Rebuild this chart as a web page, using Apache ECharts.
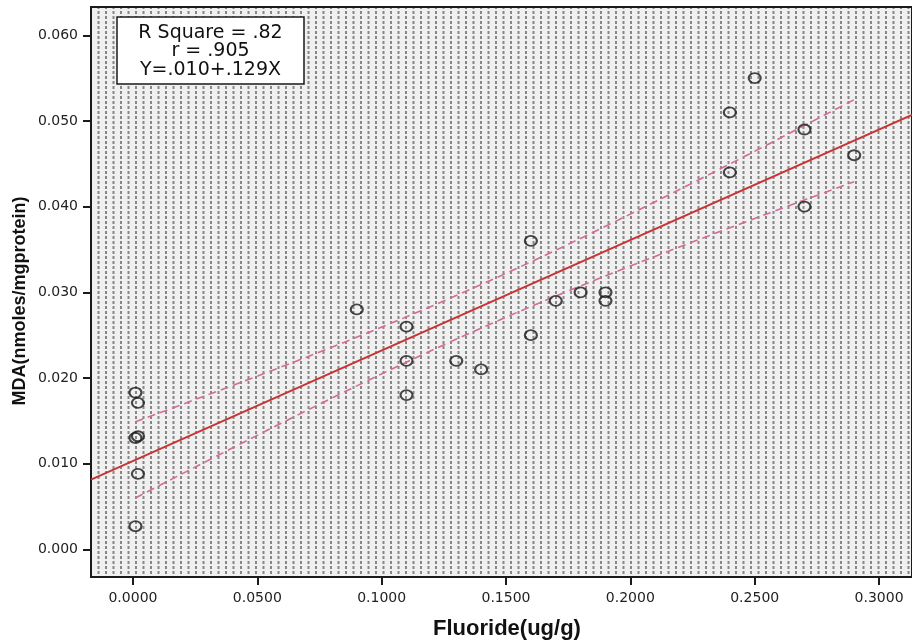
<!DOCTYPE html>
<html>
<head>
<meta charset="utf-8">
<script src="https://cdn.jsdelivr.net/npm/echarts@6/dist/echarts.min.js"></script>
<style>
html,body{margin:0;padding:0;background:#fff;}
#chart{width:912px;height:642px;}
</style>
</head>
<body>
<div id="chart"></div>
<script>
// ---- data ----
const fluoride = [0.001, 0.002, 0.002, 0.001, 0.002, 0.001,
  0.09, 0.11, 0.11, 0.11, 0.13, 0.14, 0.16, 0.16, 0.17, 0.18, 0.19, 0.19,
  0.24, 0.24, 0.25, 0.27, 0.27, 0.29];
const mda = [0.0183, 0.0171, 0.0132, 0.0130, 0.0088, 0.0027,
  0.028, 0.026, 0.022, 0.018, 0.022, 0.021, 0.036, 0.025, 0.029, 0.030, 0.030, 0.029,
  0.051, 0.044, 0.055, 0.049, 0.040, 0.046];
const xTicks = [0, 0.05, 0.10, 0.15, 0.20, 0.25, 0.30];
const yTicks = [0, 0.01, 0.02, 0.03, 0.04, 0.05, 0.06];
const statLines = ['R Square = .82', 'r = .905', 'Y=.010+.129X'];
const xTitle = 'Fluoride(ug/g)';
const yTitle = 'MDA(nmoles/mgprotein)';
const tCrit = 2.074; // t(0.975, df=22)

// ---- axis ranges ----
const xMin = -0.01687, xMax = 0.31325;
const yMin = -0.00323, yMax = 0.0633;

// ---- least squares fit + 95% mean confidence band ----
const n = fluoride.length;
const mx = fluoride.reduce((s, v) => s + v, 0) / n;
const my = mda.reduce((s, v) => s + v, 0) / n;
let sxx = 0, sxy = 0;
for (let i = 0; i < n; i++) { sxx += (fluoride[i] - mx) ** 2; sxy += (fluoride[i] - mx) * (mda[i] - my); }
const slope = sxy / sxx, icpt = my - slope * mx;
let sse = 0;
for (let i = 0; i < n; i++) sse += (mda[i] - icpt - slope * fluoride[i]) ** 2;
const se = Math.sqrt(sse / (n - 2));
const fitLine = [[xMin, icpt + slope * xMin], [xMax, icpt + slope * xMax]];
const dMin = Math.min(...fluoride), dMax = Math.max(...fluoride);
const upper = [], lower = [];
for (let i = 0; i <= 60; i++) {
  const x = dMin + (dMax - dMin) * i / 60;
  const yh = icpt + slope * x;
  const h = tCrit * se * Math.sqrt(1 / n + (x - mx) ** 2 / sxx);
  upper.push([x, yh + h]);
  lower.push([x, yh - h]);
}

// ---- dotted background pattern ----
const pc = document.createElement('canvas');
pc.width = 15; pc.height = 5;
const pctx = pc.getContext('2d');
pctx.fillStyle = '#f0f0f0'; pctx.fillRect(0, 0, 15, 5);
pctx.fillStyle = '#868686';
pctx.fillRect(0, 1, 2, 3);
pctx.fillRect(7.5, 1, 2, 3);

const chart = echarts.init(document.getElementById('chart'), null, {renderer: 'canvas'});
const tickFont = 'DejaVu Sans';
chart.setOption({
  animation: false,
  backgroundColor: '#ffffff',
  grid: {
    left: 91, top: 7, right: -1, bottom: 65,
    show: true,
    backgroundColor: {image: pc, repeat: 'repeat'},
    borderColor: '#1a1a1a', borderWidth: 2
  },
  xAxis: {
    type: 'value', min: xMin, max: xMax,
    axisLine: {show: true, onZero: false, lineStyle: {color: '#1a1a1a', width: 2}},
    axisTick: {show: true, length: 8, customValues: xTicks, lineStyle: {color: '#1a1a1a', width: 2}},
    axisLabel: {customValues: xTicks, formatter: v => v.toFixed(4), margin: 14,
      color: '#222', fontFamily: tickFont, fontSize: 14},
    splitLine: {show: false}
  },
  yAxis: {
    type: 'value', min: yMin, max: yMax,
    axisLine: {show: true, onZero: false, lineStyle: {color: '#1a1a1a', width: 2}},
    axisTick: {show: true, length: 8, customValues: yTicks, lineStyle: {color: '#1a1a1a', width: 2}},
    axisLabel: {customValues: yTicks, formatter: v => v.toFixed(3), margin: 13,
      color: '#222', fontFamily: tickFont, fontSize: 14},
    splitLine: {show: false}
  },
  series: [
    {
      type: 'line', data: upper, showSymbol: false, symbol: 'none', silent: true,
      lineStyle: {color: '#d66a9a', width: 1.6, type: [8, 5]}, z: 2
    },
    {
      type: 'line', data: lower, showSymbol: false, symbol: 'none', silent: true,
      lineStyle: {color: '#d66a9a', width: 1.6, type: [8, 5]}, z: 2
    },
    {
      type: 'line', data: fitLine, showSymbol: false, symbol: 'none', silent: true,
      lineStyle: {color: '#c83434', width: 2}, z: 3
    },
    {
      type: 'scatter', data: fluoride.map((x, i) => [x, mda[i]]),
      symbol: 'circle', symbolSize: [12, 10],
      itemStyle: {color: 'rgba(0,0,0,0)', borderColor: '#1a1a1a', borderWidth: 2}, z: 4
    }
  ],
  graphic: [
    {
      type: 'rect', z: 10,
      shape: {x: 117, y: 17, width: 187, height: 67},
      style: {fill: '#ffffff', stroke: '#1a1a1a', lineWidth: 1.5}
    },
    {
      type: 'text', z: 11, x: 210.5, y: 51.5,
      style: {text: statLines.join('\n'), fill: '#111', font: '19px "DejaVu Sans"',
        textAlign: 'center', textVerticalAlign: 'middle', lineHeight: 18.7}
    },
    {
      type: 'text', z: 11, x: 507, y: 629,
      style: {text: xTitle, fill: '#111', font: 'bold 22px "Liberation Sans"',
        textAlign: 'center', textVerticalAlign: 'middle'}
    },
    {
      type: 'text', z: 11, x: 20, y: 301, rotation: Math.PI / 2,
      style: {text: yTitle, fill: '#111', font: 'bold 18px "Liberation Sans"',
        textAlign: 'center', textVerticalAlign: 'middle'}
    }
  ]
});
</script>
</body>
</html>
